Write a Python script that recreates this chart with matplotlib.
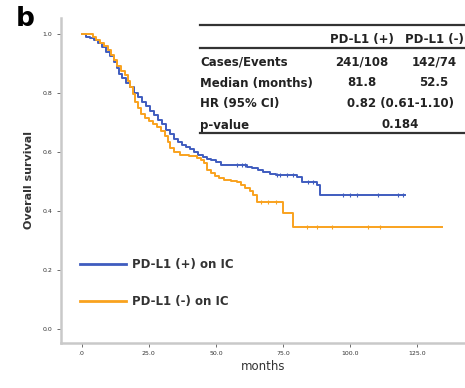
import numpy as np
import matplotlib
matplotlib.use("Agg")
import matplotlib.pyplot as plt

# Kaplan-Meier steps (months, survival)
pos_time = [0, 1.5, 3, 4.5, 6, 7.5, 9, 10.5, 12, 13, 14, 15, 16.5, 18, 19.5, 21, 22.5, 24,
            25.5, 27, 28.5, 30, 31.5, 33, 34.5, 36, 37.5, 39, 40.5, 42, 43.5, 45, 46.5, 48,
            50, 52, 61.5, 63.5, 65.5, 67.5, 70, 72.5, 80, 82, 87.7, 88.8, 120.4]
pos_surv = [1.0, 0.99, 0.985, 0.978, 0.97, 0.955, 0.94, 0.925, 0.905, 0.885, 0.865, 0.85,
            0.835, 0.82, 0.80, 0.785, 0.77, 0.755, 0.74, 0.725, 0.71, 0.695, 0.675, 0.66,
            0.645, 0.635, 0.625, 0.618, 0.61, 0.60, 0.59, 0.583, 0.578, 0.572, 0.565, 0.556,
            0.55, 0.545, 0.538, 0.532, 0.527, 0.522, 0.516, 0.499, 0.489, 0.455, 0.455]
pos_censor = [57.9, 59.8, 60.8, 72.7, 74, 76.5, 78.7, 84.3, 86.2, 97.3, 99.9, 102.5,
              110.4, 117.8, 119.7]

neg_time = [0, 4.2, 5.5, 7, 8.5, 10, 11, 12, 13, 14.5, 16, 17.2, 18, 19, 20, 21, 22, 23.5,
            25, 26.5, 28, 29.5, 31, 32, 33, 34.5, 36.5, 40, 43, 44.5, 45.5, 46.7, 48, 49.5,
            51, 53, 55.5, 57.8, 59.5, 61, 62.5, 63.8, 65.3, 75, 78.5, 134.2]
neg_surv = [1.0, 0.99, 0.98, 0.97, 0.96, 0.945, 0.93, 0.91, 0.89, 0.875, 0.86, 0.84, 0.82,
            0.795, 0.77, 0.75, 0.73, 0.715, 0.705, 0.695, 0.685, 0.67, 0.655, 0.635, 0.615,
            0.60, 0.59, 0.585, 0.58, 0.572, 0.563, 0.54, 0.53, 0.52, 0.512, 0.506, 0.503,
            0.499, 0.49, 0.479, 0.468, 0.455, 0.431, 0.394, 0.346, 0.346]
neg_censor = [66.8, 69.5, 72.3, 83.9, 87.6, 93.2, 106.6, 111.1]

x_ticks = [0, 25, 50, 75, 100, 125]
x_tick_labels = [".0", "25.0", "50.0", "75.0", "100.0", "125.0"]
y_ticks = [0.0, 0.2, 0.4, 0.6, 0.8, 1.0]

series_labels = ["PD-L1 (+) on IC", "PD-L1 (-) on IC"]

table_cols = ["PD-L1 (+)", "PD-L1 (-)"]
table_rows = ["Cases/Events", "Median (months)", "HR (95% CI)", "p-value"]
cases = ["241/108", "142/74"]
medians = ["81.8", "52.5"]
hr_text = "0.82 (0.61-1.10)"
p_text = "0.184"

BLUE = "#3f5cbf"
ORANGE = "#f9a21e"
GRAY = "#c9c9c9"


def surv_at(times, surv, t):
    idx = np.searchsorted(times, t, side="right") - 1
    return np.asarray(surv)[idx]


fig = plt.figure(figsize=(4.65, 3.88), dpi=100)
ax = fig.add_axes([0.131, 0.116, 0.869, 0.838])

for times, surv, cens, color in [(pos_time, pos_surv, pos_censor, BLUE),
                                 (neg_time, neg_surv, neg_censor, ORANGE)]:
    ax.plot(times, surv, drawstyle="steps-post", color=color, lw=1.4)
    ax.plot(cens, surv_at(times, surv, cens), linestyle="none", marker="|",
            markersize=3.5, markeredgewidth=0.8, color=color)

ax.set_xlim(-7.7, 142.7)
ax.set_ylim(-0.046, 1.054)
for s in ["top", "right"]:
    ax.spines[s].set_visible(False)
for s in ["left", "bottom"]:
    ax.spines[s].set_color(GRAY)
    ax.spines[s].set_linewidth(1.8)

ax.set_xticks(x_ticks)
ax.set_xticklabels(x_tick_labels)
ax.set_yticks(y_ticks)
ax.set_yticklabels([f"{v:.1f}" for v in y_ticks])
ax.tick_params(axis="both", labelsize=4.5, length=3, width=0.6, color="#555555",
               labelcolor="#333333", pad=3)

ax.set_xlabel("months", fontsize=8.5, color="#333333", labelpad=3)
ax.set_ylabel("Overall survival", fontsize=8, fontweight="bold", color="#333333",
              labelpad=6)

# legend drawn inside the axes like the SPSS output
ax.legend([plt.Line2D([], [], color=BLUE, lw=2), plt.Line2D([], [], color=ORANGE, lw=2)],
          series_labels, loc="lower left", bbox_to_anchor=(0.02, 0.075), frameon=False,
          handlelength=3.9, handletextpad=0.5, labelspacing=2.0,
          prop={"size": 8.5, "weight": "bold"}, labelcolor="#333333")

fig.text(0.033, 0.985, "b", fontsize=19, fontweight="bold", va="top", ha="left")

# summary table in figure fraction
tx0, tx1 = 200 / 465, 1.0
c1, c2, cm = 362 / 465, 434 / 465, 400 / 465
tf = dict(fontsize=8.5, fontweight="bold", color="#222222", va="center")
fig.add_artist(plt.Line2D([tx0, tx1], [1 - 25 / 388] * 2, color="#333333", lw=1.6))
fig.add_artist(plt.Line2D([tx0, tx1], [1 - 48 / 388] * 2, color="#333333", lw=1.6))
fig.add_artist(plt.Line2D([tx0, tx1], [1 - 133 / 388] * 2, color="#333333", lw=1.6))
fig.text(c1, 1 - 39 / 388, table_cols[0], ha="center", **tf)
fig.text(c2, 1 - 39 / 388, table_cols[1], ha="center", **tf)
row_y = [62, 83, 104, 125]
for lab, yy in zip(table_rows, row_y):
    fig.text(tx0, 1 - yy / 388, lab, ha="left", **tf)
fig.text(c1, 1 - row_y[0] / 388, cases[0], ha="center", **tf)
fig.text(c2, 1 - row_y[0] / 388, cases[1], ha="center", **tf)
fig.text(c1, 1 - row_y[1] / 388, medians[0], ha="center", **tf)
fig.text(c2, 1 - row_y[1] / 388, medians[1], ha="center", **tf)
fig.text(cm, 1 - row_y[2] / 388, hr_text, ha="center", **tf)
fig.text(cm, 1 - row_y[3] / 388, p_text, ha="center", **tf)

fig.savefig("out.png", dpi=100)
